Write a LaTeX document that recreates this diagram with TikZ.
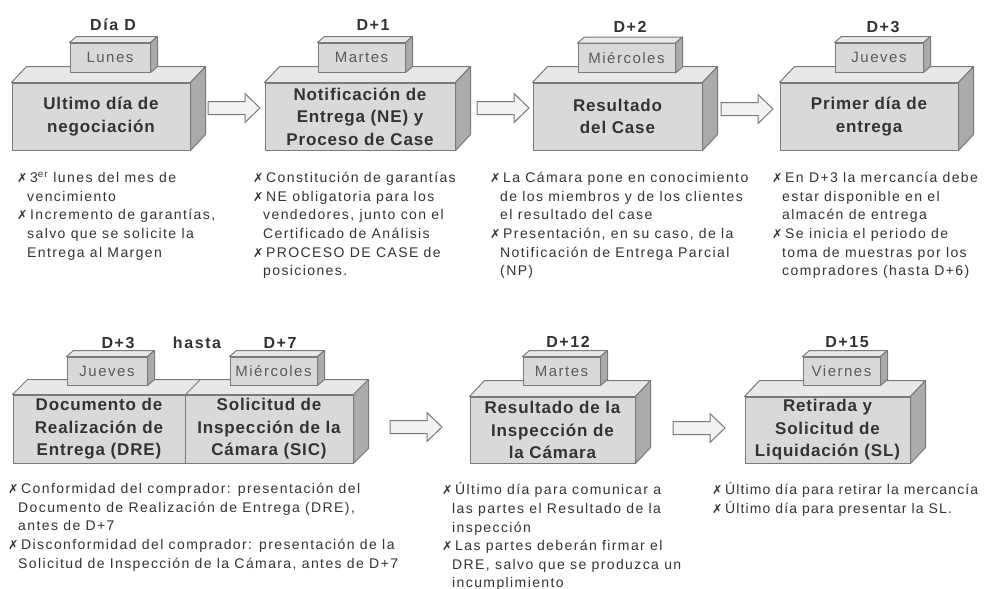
\documentclass[tikz,border=0pt]{standalone}
\usepackage{fontspec}
\setmainfont{Liberation Sans}
\newfontfamily\descfont[LetterSpace=10]{Liberation Sans}
\newfontfamily\descfontb[LetterSpace=8]{Liberation Sans}
\newfontfamily\titlefont[LetterSpace=5]{Liberation Sans}
\newfontfamily\daysfont[LetterSpace=10]{Liberation Sans}
\newfontfamily\symfont{DejaVu Sans}
\usetikzlibrary{calc}
\definecolor{edge}{HTML}{7A7A7A}
\definecolor{facefront}{HTML}{D9D9D9}
\definecolor{facetop}{HTML}{E8E8E8}
\definecolor{faceside}{HTML}{ABABAB}
\definecolor{arrowfill}{HTML}{F2F2F2}
\definecolor{titletext}{HTML}{333333}
\definecolor{smalltext}{HTML}{5A5A5A}
\definecolor{desctext}{HTML}{333333}
\newcommand\bul{\makebox[13pt][l]{{\symfont\fontsize{12.5}{12.5}\selectfont ✗}}}
\newcommand\ind{\hspace*{10pt}}
\newcommand\cubefaces[4]{%
  \filldraw[topf] (#1.north west) -- ++(#3,-#4) -- ($(#2.north east)+(#3,-#4)$) -- (#2.north east) -- cycle;
  \filldraw[sidef] (#2.north east) -- ++(#3,-#4) -- ($(#2.south east)+(#3,-#4)$) -- (#2.south east) -- cycle;}
\newcommand\blockarr[1]{%
  \filldraw[blk] ($(#1)+(0,6.5)$) -- ++(37,0) -- ++(0,8) -- ++(15,-14.5) -- ++(-15,-14.5) -- ++(0,8) -- ++(-37,0) -- cycle;}
\tikzset{
  front/.style={draw=edge, fill=facefront, line width=1pt, inner sep=0pt, align=center,
    font=\titlefont\bfseries\fontsize{17}{22.5}\selectfont, text=titletext},
  smallbox/.style={draw=edge, fill=facefront, line width=1pt, inner sep=0pt,
    font=\descfont\fontsize{15}{18}\selectfont, text=smalltext},
  topf/.style={draw=edge, fill=facetop, line width=1pt, line join=round},
  sidef/.style={draw=edge, fill=faceside, line width=1pt, line join=round},
  daylbl/.style={font=\daysfont\bfseries\fontsize{16}{18}\selectfont, text=titletext, inner sep=0pt},
  desc/.style={anchor=north west, inner sep=0pt, align=left,
    font=\descfont\fontsize{14}{18.6}\selectfont, text=desctext},
  blk/.style={draw=edge, fill=arrowfill, line width=1pt, line join=miter},
}
\begin{document}
\begin{tikzpicture}[x=1pt,y=-1pt]
\fill[white] (0,0) rectangle (989,589);
\useasboundingbox (0,0) rectangle (989,589);

% ---------- top row ----------
\node[front, minimum width=178pt, minimum height=67pt] (b1) at (101,116.5) {Ultimo día de\\negociación};
\cubefaces{b1}{b1}{15}{16}
\node[smallbox, minimum width=80pt, minimum height=29pt] (s1) at (110,57.5) {Lunes};
\cubefaces{s1}{s1}{7}{6}
\node[daylbl] (d1) at (113,25) {Día D};

\node[front, minimum width=190pt, minimum height=67pt] (b2) at (360,116.5) {Notificación de\\Entrega (NE) y\\Proceso de Case};
\cubefaces{b2}{b2}{15}{16}
\node[smallbox, minimum width=87pt, minimum height=29pt] (s2) at (361.5,57.5) {Martes};
\cubefaces{s2}{s2}{7}{6}
\node[daylbl] (d2) at (373,25) {D+1};

\node[front, minimum width=169pt, minimum height=67pt] (b3) at (617.5,116.5) {Resultado\\del Case};
\cubefaces{b3}{b3}{15}{16}
\node[smallbox, minimum width=97pt, minimum height=29pt] (s3) at (626.5,58) {Miércoles};
\cubefaces{s3}{s3}{7}{6}
\node[daylbl] (d3) at (630,27) {D+2};

\node[front, minimum width=178pt, minimum height=67pt] (b4) at (869,116.5) {Primer día de\\entrega};
\cubefaces{b4}{b4}{15}{16}
\node[smallbox, minimum width=88pt, minimum height=29pt] (s4) at (879,57.5) {Jueves};
\cubefaces{s4}{s4}{7}{6}
\node[daylbl] (d4) at (883,27) {D+3};

\coordinate (a1) at (208,108);
\coordinate (a2) at (477,108);
\coordinate (a3) at (721,109);
\blockarr{a1}
\blockarr{a2}
\blockarr{a3}

% ---------- top descriptions ----------
\node[desc] (t1) at (17,171.5) {\rule{0pt}{11pt}\bul 3\textsuperscript{er} lunes del mes de\\
\ind vencimiento\\
\bul Incremento de garantías,\\
\ind salvo que se solicite la\\
\ind Entrega al Margen};

\node[desc] (t2) at (253,171.5) {\rule{0pt}{11pt}\bul Constitución de garantías\\
\bul NE obligatoria para los\\
\ind vendedores, junto con el\\
\ind Certificado de Análisis\\
\bul PROCESO DE CASE de\\
\ind posiciones.};

\node[desc] (t3) at (490,171.5) {\rule{0pt}{11pt}\bul La Cámara pone en conocimiento\\
\ind de los miembros y de los clientes\\
\ind el resultado del case\\
\bul Presentación, en su caso, de la\\
\ind Notificación de Entrega Parcial\\
\ind (NP)};

\node[desc] (t4) at (772,171.5) {\rule{0pt}{11pt}\bul En D+3 la mercancía debe\\
\ind estar disponible en el\\
\ind almacén de entrega\\
\bul Se inicia el periodo de\\
\ind toma de muestras por los\\
\ind compradores (hasta D+6)};

% ---------- bottom row ----------
\node[front, minimum width=172pt, minimum height=68pt] (b5) at (99,429) {Documento de\\Realización de\\Entrega (DRE)};
\node[front, minimum width=168pt, minimum height=68pt] (b6) at (269,429) {Solicitud de\\Inspección de la\\Cámara (SIC)};
\cubefaces{b5}{b6}{15}{15}
\draw[edge, line width=1pt] (b5.north east) -- ++(15,-15);
\node[smallbox, minimum width=80pt, minimum height=28pt] (s5) at (107,371) {Jueves};
\cubefaces{s5}{s5}{7}{6}
\node[smallbox, minimum width=87pt, minimum height=28pt] (s6) at (273.5,371) {Miércoles};
\cubefaces{s6}{s6}{7}{6}
\node[daylbl] (d5) at (118,343) {D+3};
\node[daylbl] (d5h) at (197,343) {hasta};
\node[daylbl] (d6) at (280,343) {D+7};

\node[front, minimum width=165pt, minimum height=66pt] (b7) at (552.5,430) {Resultado de la\\Inspección de\\la Cámara};
\cubefaces{b7}{b7}{15}{16}
\node[smallbox, minimum width=77pt, minimum height=28pt] (s7) at (561.5,371) {Martes};
\cubefaces{s7}{s7}{7}{6}
\node[daylbl] (d7) at (568,342) {D+12};

\node[front, minimum width=165pt, minimum height=66pt] (b8) at (827.5,430) {Retirada y\\Solicitud de\\Liquidación (SL)};
\cubefaces{b8}{b8}{15}{16}
\node[smallbox, minimum width=77pt, minimum height=28pt] (s8) at (841.5,371) {Viernes};
\cubefaces{s8}{s8}{7}{6}
\node[daylbl] (d8) at (847,342) {D+15};

\coordinate (a4) at (390,427);
\coordinate (a5) at (673,428);
\blockarr{a4}
\blockarr{a5}

% ---------- bottom descriptions ----------
\node[desc] (t5) at (8,482.5) {\rule{0pt}{11pt}\bul Conformidad del comprador: presentación del\\
\ind Documento de Realización de Entrega (DRE),\\
\ind antes de D+7\\
\bul Disconformidad del comprador: presentación de la\\
\ind Solicitud de Inspección de la Cámara, antes de D+7};

\node[desc] (t6) at (442,482.5) {\rule{0pt}{11pt}\bul Último día para comunicar a\\
\ind las partes el Resultado de la\\
\ind inspección\\
\bul Las partes deberán firmar el\\
\ind DRE, salvo que se produzca un\\
\ind incumplimiento};

\node[desc, font=\descfontb\fontsize{14}{18.6}\selectfont] (t7) at (712,482.5) {\rule{0pt}{11pt}\bul Último día para retirar la mercancía\\
\bul Último día para presentar la SL.};
\end{tikzpicture}
\end{document}
